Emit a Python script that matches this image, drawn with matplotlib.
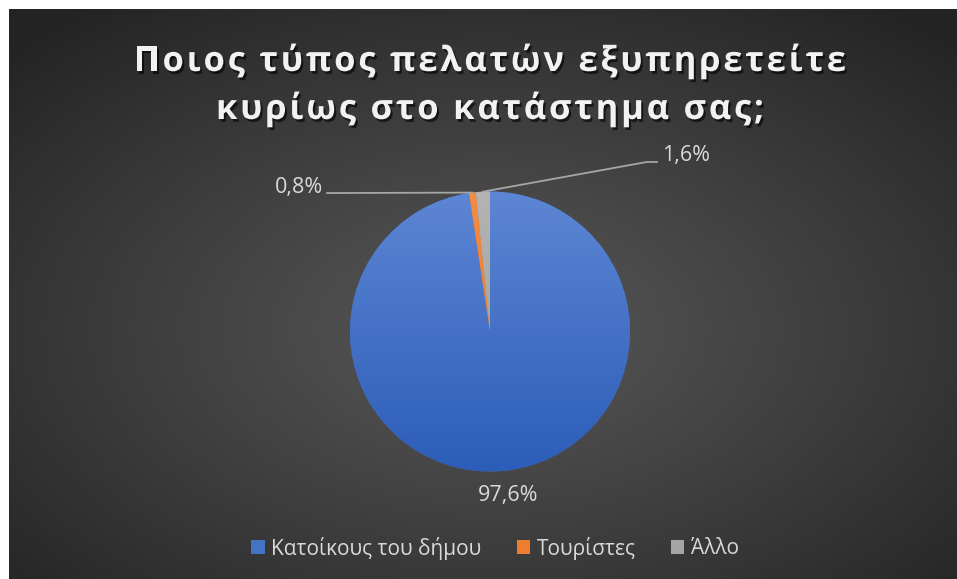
import numpy as np
import matplotlib.pyplot as plt
import matplotlib.colors as mcolors
from matplotlib import patheffects, font_manager
from matplotlib.font_manager import FontProperties
from matplotlib.ft2font import FT2Font
from matplotlib.patches import Patch, PathPatch
from matplotlib.textpath import TextPath
from matplotlib.transforms import IdentityTransform

categories = ['Κατοίκους του δήμου', 'Τουρίστες', 'Άλλο']
values = [97.6, 0.8, 1.6]
colors = ['#4472c4', '#ed7d31', '#a5a5a5']
shades = [('#5d86d4', '#2c5db8'), ('#f38c45', '#e2711f'), ('#b4b4b4', '#999999')]
title_lines = ['Ποιος τύπος πελατών εξυπηρετείτε', 'κυρίως στο κατάστημα σας;']

W, H = 957, 579
fig = plt.figure(figsize=(W / 100, H / 100), dpi=100, facecolor='white')

# dark panel, lighter in the middle
bg = fig.add_axes([9 / W, 0, (W - 9) / W, (H - 9) / H])
bg.set_axis_off()
ph, pw = H - 9, W - 9
yy, xx = np.mgrid[0:ph, 0:pw]
d = np.hypot((xx - 480) / (pw / 2), (yy - 320) / (ph / 2)) / np.sqrt(2)
v = 0.34 - 0.20 * np.clip(d, 0, 1) ** 1.1
bg.imshow(np.dstack([v, v, v]), aspect='auto', extent=(0, 1, 0, 1))
bg.set_xlim(0, 1)
bg.set_ylim(0, 1)

# title with wide letter spacing
tprop = FontProperties(family='Open Sans', weight='bold')
tfont = FT2Font(font_manager.findfont(tprop))
size_px = 34.5
spacing = 2.8
tfont.set_size(size_px, 72)
for line, base in zip(title_lines, [71, 119]):
    adv = [tfont.load_char(ord(c)).linearHoriAdvance / 65536 for c in line]
    total = sum(adv) + spacing * (len(line) - 1)
    x = 490 - total / 2
    for c, a in zip(line, adv):
        if c != ' ':
            tp = TextPath((x, H - base), c, size=size_px, prop=tprop)
            p = PathPatch(tp, facecolor='#f2f2f2', edgecolor='none',
                          transform=IdentityTransform())
            p.set_path_effects([patheffects.SimplePatchShadow(offset=(1.5, -2), alpha=0.6, shadow_rgbFace='black'),
                                patheffects.Normal()])
            fig.add_artist(p)
        x += a + spacing

# pie
cx, cy, r = 490, 331.5, 140
ax = fig.add_axes([(cx - r) / W, (H - cy - r) / H, 2 * r / W, 2 * r / H])
wedges, _ = ax.pie(values, colors=colors, startangle=90, counterclock=False, radius=1)

grad = np.linspace(0, 1, 256)[:, None, None]
for w, (top, bottom) in zip(wedges, shades):
    c0 = np.array(mcolors.to_rgb(top))
    c1 = np.array(mcolors.to_rgb(bottom))
    img = c0 + (c1 - c0) * grad
    im = ax.imshow(img, extent=(-1, 1, -1, 1), origin='upper', aspect='auto', zorder=w.get_zorder() + 0.1)
    im.set_clip_path(w)

ax.set_xlim(-1, 1)
ax.set_ylim(-1, 1)
ax.set_aspect('equal')
ax.set_axis_off()

# data labels with leader lines
lbl_kw = dict(fontsize=15.5, color='#d9d9d9', family='Open Sans', va='center')
line_kw = dict(color='#a6a6a6', lw=1.3, clip_on=False)

def pct(v):
    return f'{v:.1f}%'.replace('.', ',')

def edge_point(w):
    a = np.deg2rad((w.theta1 + w.theta2) / 2)
    return np.cos(a), np.sin(a)

ax.text(0.13, -1.175, pct(values[0]), ha='center', **lbl_kw)

ex, ey = edge_point(wedges[1])
ax.plot([ex, -1.164], [ey, 0.989], **line_kw)
ax.text(-1.193, 1.025, pct(values[1]), ha='right', **lbl_kw)

ex, ey = edge_point(wedges[2])
ax.plot([ex, 1.121, 1.193], [ey, 1.211, 1.211], **line_kw)
ax.text(1.229, 1.26, pct(values[2]), ha='left', **lbl_kw)

# legend
handles = [Patch(facecolor=c, edgecolor='none') for c in colors]
fig.legend(handles, categories, loc='center', bbox_to_anchor=(495 / W, 1 - 548 / H),
           ncol=3, frameon=False, labelcolor='#d9d9d9',
           prop=FontProperties(family='Open Sans', size=15),
           handlelength=0.65, handleheight=0.65, handletextpad=0.3, columnspacing=1.7)

fig.savefig('out.png', dpi=100, facecolor='white')
